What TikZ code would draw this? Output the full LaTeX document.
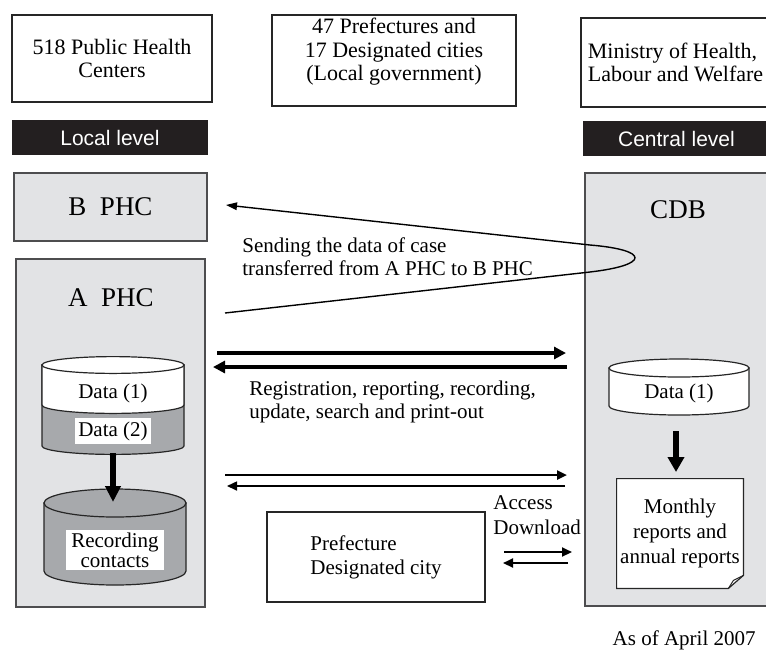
\documentclass[tikz,border=0pt]{standalone}
\usepackage{fontspec}
\setmainfont{Liberation Serif}
\newfontfamily\barfont{Liberation Sans}
\usepackage{tikz}
\usetikzlibrary{arrows.meta,positioning,calc}
\pgfdeclarelayer{bg}
\pgfsetlayers{bg,main}
\definecolor{panelgray}{HTML}{E2E3E5}
\definecolor{cylgray}{HTML}{A7A9AC}
\definecolor{barblack}{HTML}{231F20}
\definecolor{edgegray}{HTML}{4D4D4F}

\tikzset{
  hdrbox/.style={draw=black!85, line width=0.7pt, align=center, inner sep=0pt,
    font=\fontsize{11}{11.75}\selectfont},
  levelbar/.style={fill=barblack, text=white, inner sep=0pt,
    font=\barfont\fontsize{10.5}{12}\selectfont},
  panel/.style={fill=panelgray, draw=edgegray, line width=0.7pt, inner sep=0pt},
  bigtxt/.style={inner sep=0pt, font=\fontsize{13.5}{16}\selectfont},
  txt/.style={inner sep=0pt, align=left, font=\fontsize{10.5}{11.5}\selectfont},
  datalbl/.style={fill=white, inner sep=1.5pt, align=center,
    font=\fontsize{10.5}{10}\selectfont},
  cylline/.style={draw=black!85, line width=0.6pt},
  fatarrow/.style={line width=2pt, -{Triangle[length=6pt,width=6pt]}},
  thinarrow/.style={line width=1pt, -{Triangle[length=5pt,width=4.5pt]}},
  downarrow/.style={line width=2.6pt, -{Triangle[length=8pt,width=7.5pt]}},
}

\begin{document}
\begin{tikzpicture}[x=0.5pt, y=-0.5pt]
  \useasboundingbox (0,0) rectangle (766,655);
  \clip (0,0) rectangle (766,655);

  % headers
  \node [hdrbox, minimum width=100pt, minimum height=43.5pt] (phcs) at (112,58.5) {518 Public Health\\Centers};
  \node [hdrbox, minimum width=122pt, minimum height=45.5pt] (prefs) at (394,60.5) {};
  \node [txt, align=center, font=\fontsize{11}{11.75}\selectfont] (prefstext) at (394,52) {47 Prefectures and\\17 Designated cities\\(Local government)};
  \node [hdrbox, minimum width=94.5pt, minimum height=44.5pt, align=left] (mhlw) at (675.5,62.5) {Ministry of Health,\\Labour and Welfare};
  \node [levelbar, minimum width=98pt, minimum height=17.5pt] (local) at (110,137.5) {Local level};
  \node [levelbar, minimum width=93.5pt, minimum height=17.5pt] (central) at (676.5,138.5) {Central level};

  \begin{pgfonlayer}{bg}    % grey panels behind everything
    \node [panel, minimum width=96.5pt, minimum height=34pt] (bphc) at (110.5,207) {};
    \node [panel, minimum width=94.5pt, minimum height=174pt] (aphc) at (110.5,433) {};
    \node [panel, minimum width=92.5pt, minimum height=216.5pt] (cdb) at (677.5,389.5) {};
  \end{pgfonlayer}
  \node [bigtxt] (bphctitle) at (bphc) {B\ \ PHC};
  \node [bigtxt] (aphctitle) at (111,298) {A\ \ PHC};
  \node [bigtxt] (cdbtitle) at (678,210) {CDB};

  % data store of A PHC
  \filldraw [cylline, fill=cylgray] (42,365) -- (42,446) arc[start angle=180, end angle=360, x radius=35.5pt, y radius=4.2pt] -- (184,365) -- cycle;
  \filldraw [cylline, fill=white] (42,365) -- (42,405) arc[start angle=180, end angle=360, x radius=35.5pt, y radius=4.2pt] -- (184,365) -- cycle;
  \filldraw [cylline, fill=white] (113,365) ellipse [x radius=35.5pt, y radius=4.2pt];
  \node [datalbl] (data1a) at (113,393) {Data (1)};
  \node [datalbl] (data2) at (113,431) {Data (2)};

  % recording contacts
  \filldraw [cylline, fill=cylgray] (44,503) -- (44,571) arc[start angle=180, end angle=360, x radius=35.5pt, y radius=7pt] -- (186,503) -- cycle;
  \filldraw [cylline, fill=cylgray] (115,503) ellipse [x radius=35.5pt, y radius=7pt];
  \node [datalbl, inner xsep=2.5pt] (contacts) at (115,550) {Recording\\contacts};

  % data store of CDB
  \filldraw [cylline, fill=white] (609,368) -- (609,406) arc[start angle=180, end angle=360, x radius=35pt, y radius=4.5pt] -- (749,368) -- cycle;
  \filldraw [cylline, fill=white] (679,368) ellipse [x radius=35pt, y radius=4.5pt];
  \node [datalbl] (data1c) at (679,393) {Data (1)};

  % reports sheet
  \node [txt, align=center, font=\fontsize{10.5}{12.5}\selectfont, minimum width=63pt, minimum height=54.5pt] (reports) at (680,533.5) {Monthly\\reports and\\annual reports};
  \begin{pgfonlayer}{bg}
    \filldraw [cylline, fill=white] (reports.north west) -- (reports.north east) -- ([yshift=6.5pt]reports.south east) -- ([xshift=-7.5pt]reports.south east) -- (reports.south west) -- cycle;
  \end{pgfonlayer}
  \draw [cylline, line width=0.5pt] ([yshift=6.5pt]reports.south east) -- ([xshift=-5pt,yshift=4pt]reports.south east) -- ([xshift=-7.5pt]reports.south east);

  \node [hdrbox, minimum width=109pt, minimum height=45pt, align=left, font=\fontsize{10.5}{12}\selectfont] (prefcity) at (376,557) {Prefecture\\Designated city};

  % texts between the columns
  \node [txt, anchor=west] (sendtext) at (242,256.5) {Sending the data of case\\transferred from A PHC to B PHC};
  \node [txt, anchor=west] (regtext) at (249,401.5) {Registration, reporting, recording,\\update, search and print-out};
  \node [txt, anchor=west, font=\fontsize{10.5}{12.5}\selectfont] (accesstext) at (493,515) {Access\\Download};
  \node [txt, anchor=base east] (asof) at (756,645) {As of April 2007};

  % connectors
  \coordinate (sendfrom) at (225,313);
  \coordinate (sendto) at (226,205);
  \draw [line width=0.7pt, -{Triangle[length=5.5pt,width=3.8pt]}] (sendfrom) -- (590,272) .. controls (650,265) and (650,250) .. (590,245) -- (sendto);

  \coordinate (regout) at (217,353);
  \coordinate (regin) at (566,353);
  \coordinate (regback) at (567,367);
  \coordinate (regend) at (213,367);
  \draw [fatarrow] (regout) -- (regin);
  \draw [fatarrow] (regback) -- (regend);

  \coordinate (thinout) at (225,475);
  \coordinate (thinin) at (567,475);
  \coordinate (thinback) at (565,486);
  \coordinate (thinend) at (227,486);
  \draw [thinarrow, line width=1.2pt] (thinout) -- (thinin);
  \draw [thinarrow, line width=0.8pt] (thinback) -- (thinend);

  \coordinate (accout) at (504,552);
  \coordinate (accin) at (572,552);
  \coordinate (accback) at (568,563);
  \coordinate (accend) at (503,563);
  \draw [thinarrow] (accout) -- (accin);
  \draw [thinarrow] (accback) -- (accend);

  \coordinate (dataout) at (113,453);
  \coordinate (contactsin) at (113,502);
  \draw [downarrow] (dataout) -- (contactsin);
  \coordinate (cdbout) at (676,431);
  \coordinate (reportsin) at (676,472);
  \draw [downarrow, line width=2.8pt, -{Triangle[length=7.5pt,width=8pt]}] (cdbout) -- (reportsin);
\end{tikzpicture}
\end{document}
